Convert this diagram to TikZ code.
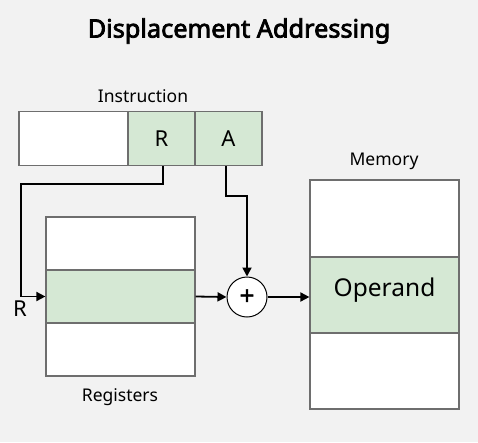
\documentclass[tikz,border=0pt]{standalone}
\usepackage{fontspec}
\setmainfont{Noto Sans}
\newfontfamily\titlefont{Noto Sans}[FakeBold=3]
\newfontfamily\plusfont{Noto Sans}[FakeBold=1.5]
\usetikzlibrary{arrows.meta}
\definecolor{bg}{HTML}{F2F2F2}
\definecolor{grn}{HTML}{D5E8D4}
\definecolor{edge}{HTML}{6E6E6E}
\tikzset{
  cell/.style={draw=edge, line width=1.2pt, fill=white, minimum width=0pt, minimum height=0pt, inner sep=0pt},
  gcell/.style={cell, fill=grn},
  conn/.style={draw=black, line width=1.8pt, -{Triangle[length=9pt,width=9pt]}},
  lbl/.style={inner sep=0pt, font=\fontsize{17.5}{20}\selectfont}
}
\begin{document}
\begin{tikzpicture}[x=1pt,y=-1pt]
\useasboundingbox[fill=bg] (0,0) rectangle (478,442);
\node[inner sep=0pt, font=\fontsize{25.3}{28}\titlefont] (title) at (239,31) {Displacement Addressing};
% instruction
\node[lbl] (instr) at (143,96.5) {Instruction};
\node[cell, minimum width=109pt, minimum height=54pt] (iop) at (73.5,138.5) {};
\node[gcell, minimum width=67pt, minimum height=54pt, font=\fontsize{22}{26}\selectfont] (ir) at (161.5,138.5) {R};
\node[gcell, minimum width=67pt, minimum height=54pt, font=\fontsize{22}{26}\selectfont] (ia) at (228.5,138.5) {A};
% registers
\node[cell, minimum width=149pt, minimum height=53pt] (r1) at (120.5,243.5) {};
\node[gcell, minimum width=149pt, minimum height=53pt] (r2) at (120.5,296.5) {};
\node[cell, minimum width=149pt, minimum height=53pt] (r3) at (120.5,349.5) {};
\node[lbl] (regs) at (120,397.5) {Registers};
\node[inner sep=0pt, font=\fontsize{22}{26}\selectfont] (rl) at (20,308.5) {R};
% adder
\node[draw=black, line width=1pt, circle, minimum size=40pt, inner sep=0pt, fill=white, font=\fontsize{26}{28}\plusfont] (add) at (247,297) {+};
% memory
\node[cell, minimum width=149pt, minimum height=77pt] (m1) at (384.5,218.5) {};
\node[gcell, minimum width=149pt, minimum height=76pt] (m2) at (384.5,295) {};
\node[inner sep=0pt, font=\fontsize{24.5}{28}\selectfont] (op) at (384.5,290) {Operand};
\node[cell, minimum width=149pt, minimum height=76pt] (m3) at (384.5,371) {};
\node[lbl] (mem) at (384,161) {Memory};
% connectors
\coordinate (c1) at (163,184);
\coordinate (c2) at (21,184);
\draw[conn] ([xshift=1.5pt]ir.south) -- (c1) -- (c2) |- (r2.west);
\coordinate (c3) at (226,196);
\coordinate (c4) at (247,196);
\draw[conn] ([xshift=-2.5pt]ia.south) -- (c3) -- (c4) -- (add.north);
\draw[conn] (r2.east) -- (add.west);
\draw[conn] (add.east) -- (m2.west |- add.east);
\end{tikzpicture}
\end{document}
